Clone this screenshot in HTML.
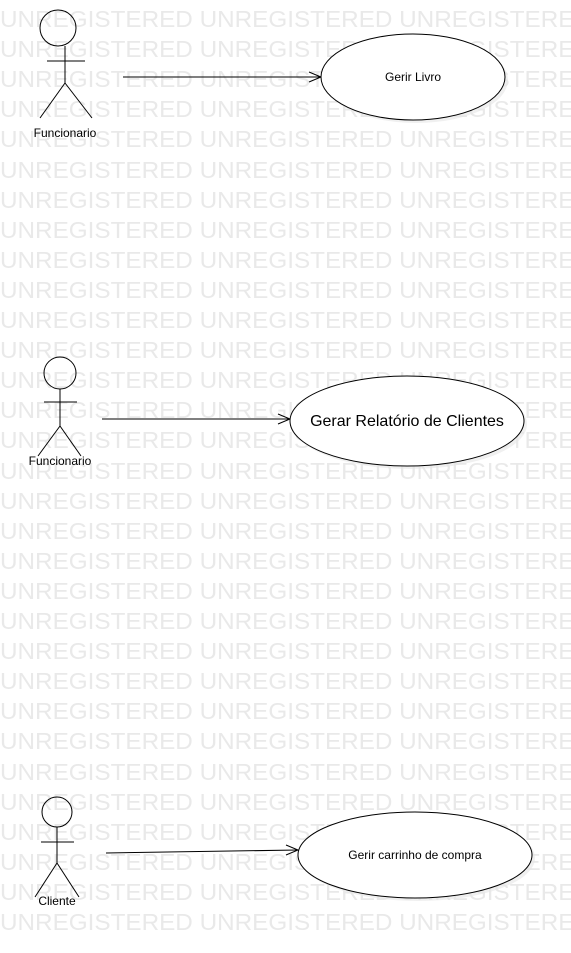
<!DOCTYPE html>
<html><head><meta charset="utf-8"><style>
html,body{margin:0;padding:0;background:#fff;}
svg{display:block;}
.wm{font-family:"Liberation Sans",sans-serif;font-size:23px;fill:#e9e9e9;}
.lbl{font-family:"Liberation Sans",sans-serif;font-size:12px;fill:#000;}
</style></head><body>
<svg width="571" height="953" xmlns="http://www.w3.org/2000/svg">
<g class="wm">
<text x="0" y="27" textLength="592" lengthAdjust="spacingAndGlyphs">UNREGISTERED UNREGISTERED UNREGISTERED</text>
<text x="0" y="57" textLength="592" lengthAdjust="spacingAndGlyphs">UNREGISTERED UNREGISTERED UNREGISTERED</text>
<text x="0" y="87" textLength="592" lengthAdjust="spacingAndGlyphs">UNREGISTERED UNREGISTERED UNREGISTERED</text>
<text x="0" y="117" textLength="592" lengthAdjust="spacingAndGlyphs">UNREGISTERED UNREGISTERED UNREGISTERED</text>
<text x="0" y="147" textLength="592" lengthAdjust="spacingAndGlyphs">UNREGISTERED UNREGISTERED UNREGISTERED</text>
<text x="0" y="178" textLength="592" lengthAdjust="spacingAndGlyphs">UNREGISTERED UNREGISTERED UNREGISTERED</text>
<text x="0" y="208" textLength="592" lengthAdjust="spacingAndGlyphs">UNREGISTERED UNREGISTERED UNREGISTERED</text>
<text x="0" y="238" textLength="592" lengthAdjust="spacingAndGlyphs">UNREGISTERED UNREGISTERED UNREGISTERED</text>
<text x="0" y="268" textLength="592" lengthAdjust="spacingAndGlyphs">UNREGISTERED UNREGISTERED UNREGISTERED</text>
<text x="0" y="298" textLength="592" lengthAdjust="spacingAndGlyphs">UNREGISTERED UNREGISTERED UNREGISTERED</text>
<text x="0" y="328" textLength="592" lengthAdjust="spacingAndGlyphs">UNREGISTERED UNREGISTERED UNREGISTERED</text>
<text x="0" y="358" textLength="592" lengthAdjust="spacingAndGlyphs">UNREGISTERED UNREGISTERED UNREGISTERED</text>
<text x="0" y="388" textLength="592" lengthAdjust="spacingAndGlyphs">UNREGISTERED UNREGISTERED UNREGISTERED</text>
<text x="0" y="418" textLength="592" lengthAdjust="spacingAndGlyphs">UNREGISTERED UNREGISTERED UNREGISTERED</text>
<text x="0" y="448" textLength="592" lengthAdjust="spacingAndGlyphs">UNREGISTERED UNREGISTERED UNREGISTERED</text>
<text x="0" y="479" textLength="592" lengthAdjust="spacingAndGlyphs">UNREGISTERED UNREGISTERED UNREGISTERED</text>
<text x="0" y="509" textLength="592" lengthAdjust="spacingAndGlyphs">UNREGISTERED UNREGISTERED UNREGISTERED</text>
<text x="0" y="539" textLength="592" lengthAdjust="spacingAndGlyphs">UNREGISTERED UNREGISTERED UNREGISTERED</text>
<text x="0" y="569" textLength="592" lengthAdjust="spacingAndGlyphs">UNREGISTERED UNREGISTERED UNREGISTERED</text>
<text x="0" y="599" textLength="592" lengthAdjust="spacingAndGlyphs">UNREGISTERED UNREGISTERED UNREGISTERED</text>
<text x="0" y="629" textLength="592" lengthAdjust="spacingAndGlyphs">UNREGISTERED UNREGISTERED UNREGISTERED</text>
<text x="0" y="659" textLength="592" lengthAdjust="spacingAndGlyphs">UNREGISTERED UNREGISTERED UNREGISTERED</text>
<text x="0" y="689" textLength="592" lengthAdjust="spacingAndGlyphs">UNREGISTERED UNREGISTERED UNREGISTERED</text>
<text x="0" y="719" textLength="592" lengthAdjust="spacingAndGlyphs">UNREGISTERED UNREGISTERED UNREGISTERED</text>
<text x="0" y="749" textLength="592" lengthAdjust="spacingAndGlyphs">UNREGISTERED UNREGISTERED UNREGISTERED</text>
<text x="0" y="780" textLength="592" lengthAdjust="spacingAndGlyphs">UNREGISTERED UNREGISTERED UNREGISTERED</text>
<text x="0" y="810" textLength="592" lengthAdjust="spacingAndGlyphs">UNREGISTERED UNREGISTERED UNREGISTERED</text>
<text x="0" y="840" textLength="592" lengthAdjust="spacingAndGlyphs">UNREGISTERED UNREGISTERED UNREGISTERED</text>
<text x="0" y="870" textLength="592" lengthAdjust="spacingAndGlyphs">UNREGISTERED UNREGISTERED UNREGISTERED</text>
<text x="0" y="900" textLength="592" lengthAdjust="spacingAndGlyphs">UNREGISTERED UNREGISTERED UNREGISTERED</text>
<text x="0" y="930" textLength="592" lengthAdjust="spacingAndGlyphs">UNREGISTERED UNREGISTERED UNREGISTERED</text>
</g>
<g stroke="#000" stroke-width="1" fill="none">
<circle cx="58" cy="28" r="18"/>
<line x1="65" y1="46" x2="65" y2="83"/>
<line x1="47" y1="61" x2="85" y2="61"/>
<line x1="65" y1="83" x2="40" y2="118"/>
<line x1="65" y1="83" x2="92" y2="118"/>
<circle cx="60" cy="373" r="16"/>
<line x1="60" y1="389" x2="60" y2="426"/>
<line x1="44" y1="402" x2="77" y2="402"/>
<line x1="60" y1="426" x2="38" y2="456"/>
<line x1="60" y1="426" x2="81" y2="456"/>
<circle cx="57" cy="812" r="15"/>
<line x1="57" y1="827" x2="57" y2="863"/>
<line x1="41" y1="842" x2="74" y2="842"/>
<line x1="57" y1="863" x2="35" y2="897"/>
<line x1="57" y1="863" x2="79" y2="897"/>
<line x1="123" y1="77" x2="321" y2="77"/>
<polyline points="309,72 321,77 309,82"/>
<line x1="102" y1="419" x2="290" y2="419"/>
<polyline points="278,414 290,419 278,424"/>
<line x1="106" y1="853" x2="298" y2="850"/>
<polyline points="286,845 298,850 286,855"/>
</g>
<ellipse cx="416" cy="80" rx="92" ry="43" fill="#e6e6e6" opacity="0.6"/>
<ellipse cx="413" cy="77" rx="92" ry="43" fill="#fff" stroke="#000"/>
<ellipse cx="410" cy="424" rx="117" ry="45" fill="#e6e6e6" opacity="0.6"/>
<ellipse cx="407" cy="421" rx="117" ry="45" fill="#fff" stroke="#000"/>
<ellipse cx="418" cy="858" rx="117" ry="43" fill="#e6e6e6" opacity="0.6"/>
<ellipse cx="415" cy="855" rx="117" ry="43" fill="#fff" stroke="#000"/>
<text class="lbl" x="413" y="81" text-anchor="middle">Gerir Livro</text>
<text class="lbl" x="407" y="426" text-anchor="middle" style="font-size:16px">Gerar Relatório de Clientes</text>
<text class="lbl" x="415" y="859" text-anchor="middle">Gerir carrinho de compra</text>
<text class="lbl" x="65" y="137" text-anchor="middle">Funcionario</text>
<text class="lbl" x="60" y="465" text-anchor="middle">Funcionario</text>
<text class="lbl" x="57" y="905" text-anchor="middle">Cliente</text>
</svg>
</body></html>
